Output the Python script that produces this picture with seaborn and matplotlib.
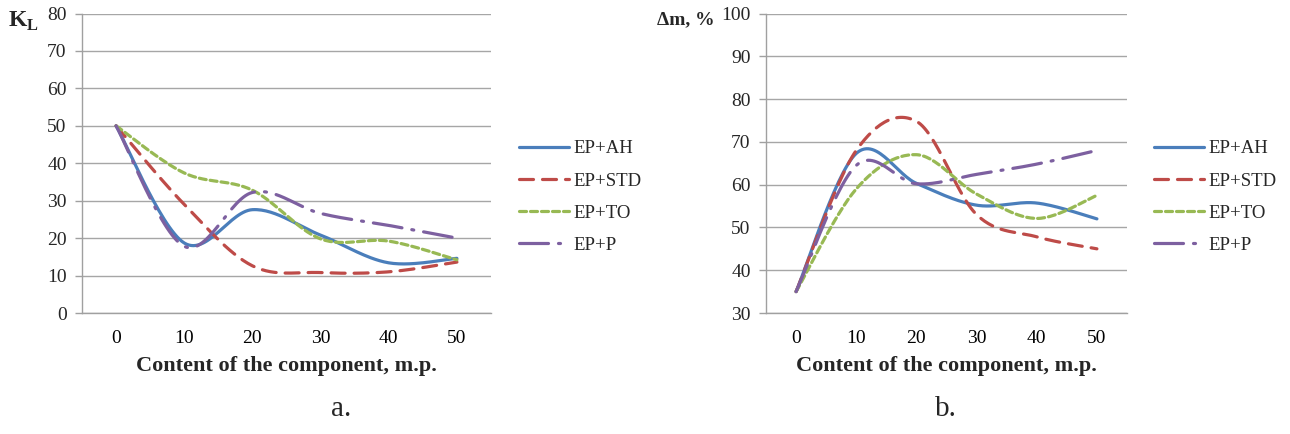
import numpy as np
import pandas as pd
import matplotlib
matplotlib.use("Agg")
import matplotlib.pyplot as plt
import seaborn as sns

# ---- data ----
content = [0, 10, 20, 30, 40, 50]
series_names = ["EP+AH", "EP+STD", "EP+TO", "EP+P"]

kl_ah = [50, 18.7, 27.6, 20.8, 13.4, 14.6]
kl_std = [50, 29.0, 12.6, 10.8, 11.0, 13.6]
kl_to = [50, 37.4, 32.8, 19.8, 19.2, 14.2]
kl_p = [50, 17.8, 32.2, 26.6, 23.4, 20.0]

dm_ah = [35, 67.3, 60.3, 55.2, 55.7, 52.0]
dm_std = [35, 68.0, 74.8, 53.0, 47.8, 45.0]
dm_to = [35, 59.0, 67.0, 57.8, 52.1, 57.5]
dm_p = [35, 64.5, 60.2, 62.4, 64.8, 68.0]

kl_ticks = [0, 10, 20, 30, 40, 50, 60, 70, 80]
dm_ticks = [30, 40, 50, 60, 70, 80, 90, 100]

sns.set_theme(style="white")
plt.rcParams["font.family"] = ["Liberation Serif", "DejaVu Serif"]
plt.rcParams["lines.scale_dashes"] = False
plt.rcParams["mathtext.fontset"] = "custom"
plt.rcParams["mathtext.rm"] = "Liberation Serif"
plt.rcParams["mathtext.bf"] = "Liberation Serif:bold"

colors = ["#4A7EBB", "#BE4B48", "#98B954", "#7D60A0"]
px = 0.72
dashes = [None, (0, (14 * px, 9 * px)), (0, (7 * px, 4 * px)),
          (0, (29 * px, 10 * px, 2 * px, 10 * px))]


def smooth(x, y, n=30):
    """Excel-like smoothed line: cubic Bezier segments with Catmull-Rom control points."""
    x = np.asarray(x, float)
    y = np.asarray(y, float)
    pts = np.column_stack([x, y])
    out = []
    m = len(pts)
    for i in range(m - 1):
        p0 = pts[i - 1] if i > 0 else pts[i]
        p1 = pts[i]
        p2 = pts[i + 1]
        p3 = pts[i + 2] if i + 2 < m else pts[i + 1]
        c1 = p1 + (p2 - p0) / 6.0
        c2 = p2 - (p3 - p1) / 6.0
        t = np.linspace(0, 1, n, endpoint=(i == m - 2))[:, None]
        b = ((1 - t) ** 3) * p1 + 3 * ((1 - t) ** 2) * t * c1 + 3 * (1 - t) * t ** 2 * c2 + t ** 3 * p2
        out.append(b)
    out = np.vstack(out)
    return out[:, 0], out[:, 1]


fig = plt.figure(figsize=(12.9, 4.34), dpi=100)
axA = fig.add_axes([82 / 1290, 1 - 313 / 434, (491 - 82) / 1290, (313 - 13.5) / 434])
axB = fig.add_axes([766 / 1290, 1 - 313 / 434, (1127 - 766) / 1290, (313 - 13.5) / 434])

panels = [
    (axA, [kl_ah, kl_std, kl_to, kl_p], kl_ticks, (519 / 1290, 1 - 197 / 434)),
    (axB, [dm_ah, dm_std, dm_to, dm_p], dm_ticks, (1154 / 1290, 1 - 197 / 434)),
]

for ax, data, yt, legpos in panels:
    for name, vals, c, d in zip(series_names, data, colors, dashes):
        sx, sy = smooth(content, vals)
        df = pd.DataFrame({"x": sx, "y": sy})
        sns.lineplot(data=df, x="x", y="y", ax=ax, sort=False, estimator=None,
                     color=c, linewidth=2.3, label=name)
        ln = ax.get_lines()[-1]
        if d is not None:
            ln.set_linestyle(d)
        ln.set_solid_capstyle("round")
        ln.set_dash_capstyle("round")
    ax.set_xlim(-5, 55)
    ax.set_ylim(yt[0], yt[-1])
    ax.set_yticks(yt)
    ax.set_xticks(content)
    ax.set_xticklabels([str(v) for v in content])
    ax.set_xticks(np.arange(-5, 56, 10), minor=True)
    ax.tick_params(axis="x", which="major", length=0, pad=12, labelsize=14, colors="black")
    ax.tick_params(axis="x", which="minor", length=5, width=1, color="#A0A0A0", direction="out")
    ax.tick_params(axis="y", which="major", length=5, width=1, color="#A0A0A0", pad=6,
                   labelsize=14, direction="out", left=True)
    ax.grid(axis="y", color="#A6A6A6", linewidth=1)
    ax.grid(axis="x", visible=False)
    for s in ["top", "right"]:
        ax.spines[s].set_visible(False)
    for s in ["left", "bottom"]:
        ax.spines[s].set_color("#A0A0A0")
        ax.spines[s].set_linewidth(1)
    ax.set_xlabel("Content of the component, m.p.", fontsize=16, fontweight="bold", labelpad=7)
    ax.set_ylabel("")
    ax.set_facecolor("white")
    leg = ax.legend(loc="center left", bbox_to_anchor=legpos, bbox_transform=fig.transFigure,
                    frameon=False, fontsize=13.5, handlelength=2.65, handletextpad=0.25,
                    labelspacing=0.8, borderaxespad=0, borderpad=0)
    for h in leg.get_lines():
        h.set_linewidth(2.3)

fig.text(8 / 1290, 1 - 21 / 434, r"$\mathbf{K}_{\mathbf{L}}$", fontsize=17, ha="left", va="center")
fig.text(715 / 1290, 1 - 20 / 434, "Δm, %", fontsize=14, ha="right", va="center", fontweight="bold")
fig.text(341 / 1290, 1 - 409 / 434, "a.", fontsize=21, ha="center", va="center")
fig.text(946 / 1290, 1 - 409 / 434, "b.", fontsize=21, ha="center", va="center")

fig.savefig("out.png", dpi=100, facecolor="white")
